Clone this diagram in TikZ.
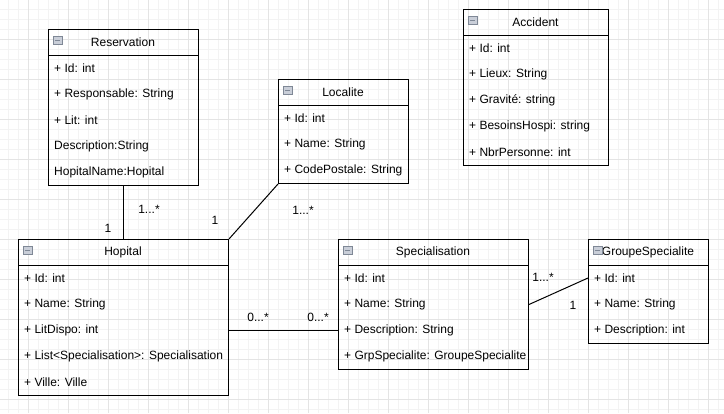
\documentclass[tikz,border=0pt]{standalone}
\usepackage{fontspec}
\setmainfont{Liberation Sans}
\usetikzlibrary{positioning}

\definecolor{gridminor}{HTML}{F3F3F3}
\definecolor{gridmajor}{HTML}{E4E4E4}
\definecolor{iconfill}{HTML}{C9CED8}
\definecolor{iconline}{HTML}{7F8896}

\tikzset{
    box/.style={draw, line width=1pt, anchor=north west, inner sep=0pt},
    title/.style={inner sep=0pt, font=\fontsize{12}{14}\selectfont},
    attr/.style={anchor=west, inner sep=0pt, font=\fontsize{12}{14}\selectfont},
    mult/.style={inner sep=0pt, font=\fontsize{12}{14}\selectfont},
    icon/.style={draw=iconline, fill=iconfill, minimum width=9pt, minimum height=8pt, inner sep=0pt,
        path picture={\draw[line width=1pt] ([xshift=-2.5pt]path picture bounding box.center) -- ([xshift=2.5pt]path picture bounding box.center);}},
    assoc/.style={line width=1pt}
}

\begin{document}
\begin{tikzpicture}[x=1pt, y=-1pt]
    \useasboundingbox (0,0) rectangle (724,413);
    \fill[white] (0,0) rectangle (724,413);
    % grid
    \foreach \x in {8.5,18.5,...,724} \draw[gridminor, line width=1pt] (\x,0) -- (\x,413);
    \foreach \y in {9,19,...,413} \draw[gridminor, line width=1pt] (0,\y) -- (724,\y);
    \foreach \x in {28.5,68.5,...,724} \draw[gridmajor, line width=1pt] (\x,0) -- (\x,413);
    \foreach \y in {39,79,...,413} \draw[gridmajor, line width=1pt] (0,\y) -- (724,\y);

    % Reservation
    \node[box, minimum width=150pt, minimum height=156pt] (res) at (48,29) {};
    \node[title] (res-t) at (123,42) {Reservation};
    \node[icon] (res-i) at ([xshift=9.5pt,yshift=-11pt]res.north west) {};
    \draw[line width=1pt] ([yshift=-26pt]res.north west) -- ([yshift=-26pt]res.north east);
    \foreach \t [count=\i] in {+ Id: int, + Responsable: String, + Lit: int, Description:String, HopitalName:Hopital}
        \node[attr] (res-\i) at (54,{42+26*\i}) {\t};

    % Hopital
    \node[box, minimum width=210pt, minimum height=156pt] (hop) at (18,239) {};
    \node[title] (hop-t) at (123,252) {Hopital};
    \node[icon] (hop-i) at ([xshift=9.5pt,yshift=-11pt]hop.north west) {};
    \draw[line width=1pt] ([yshift=-26pt]hop.north west) -- ([yshift=-26pt]hop.north east);
    \foreach \t [count=\i] in {+ Id: int, + Name: String, + LitDispo: int, + List<Specialisation>: Specialisation, + Ville: Ville}
        \node[attr] (hop-\i) at (24,{252+26*\i}) {\t};

    % Localite
    \node[box, minimum width=130pt, minimum height=104pt] (loc) at (278,79) {};
    \node[title] (loc-t) at (343,92) {Localite};
    \node[icon] (loc-i) at ([xshift=9.5pt,yshift=-11pt]loc.north west) {};
    \draw[line width=1pt] ([yshift=-26pt]loc.north west) -- ([yshift=-26pt]loc.north east);
    \foreach \t [count=\i] in {+ Id: int, + Name: String, + CodePostale: String}
        \node[attr] (loc-\i) at (284,{92+26*\i}) {\t};

    % Accident
    \node[box, minimum width=145pt, minimum height=156pt] (acc) at (463,9) {};
    \node[title] (acc-t) at (535.5,22) {Accident};
    \node[icon] (acc-i) at ([xshift=9.5pt,yshift=-11pt]acc.north west) {};
    \draw[line width=1pt] ([yshift=-26pt]acc.north west) -- ([yshift=-26pt]acc.north east);
    \foreach \t [count=\i] in {+ Id: int, + Lieux: String, + Gravité: string, + BesoinsHospi: string, + NbrPersonne: int}
        \node[attr] (acc-\i) at (469,{22+26*\i}) {\t};

    % Specialisation
    \node[box, minimum width=190pt, minimum height=130pt] (spec) at (338,239) {};
    \node[title] (spec-t) at (433,252) {Specialisation};
    \node[icon] (spec-i) at ([xshift=9.5pt,yshift=-11pt]spec.north west) {};
    \draw[line width=1pt] ([yshift=-26pt]spec.north west) -- ([yshift=-26pt]spec.north east);
    \foreach \t [count=\i] in {+ Id: int, + Name: String, + Description: String, + GrpSpecialite: GroupeSpecialite}
        \node[attr] (spec-\i) at (344,{252+26*\i}) {\t};

    % GroupeSpecialite
    \node[box, minimum width=120pt, minimum height=104pt] (grp) at (588,239) {};
    \node[title] (grp-t) at (648,252) {GroupeSpecialite};
    \node[icon] (grp-i) at ([xshift=9.5pt,yshift=-11pt]grp.north west) {};
    \draw[line width=1pt] ([yshift=-26pt]grp.north west) -- ([yshift=-26pt]grp.north east);
    \foreach \t [count=\i] in {+ Id: int, + Name: String, + Description: int}
        \node[attr] (grp-\i) at (594,{252+26*\i}) {\t};

    % associations
    \draw[assoc] (res.south) -- (hop.north);
    \draw[assoc] (hop.north east) -- (loc.south west);
    \draw[assoc] (hop.east |- hop-3) -- (spec.west |- spec-3);
    \draw[assoc] (spec.east) -- (grp.west |- grp-1);

    \node[mult] (m-res-hop) at (108,228) {1};
    \node[mult] (m-hop-res) at (149,209) {1...*};
    \node[mult] (m-loc-hop) at (215,220) {1};
    \node[mult] (m-hop-loc) at (303,210) {1...*};
    \node[mult] (m-spec-hop) at (258,317) {0...*};
    \node[mult] (m-hop-spec) at (318,317) {0...*};
    \node[mult] (m-grp-spec) at (543,277) {1...*};
    \node[mult] (m-spec-grp) at (573,305) {1};
\end{tikzpicture}
\end{document}
